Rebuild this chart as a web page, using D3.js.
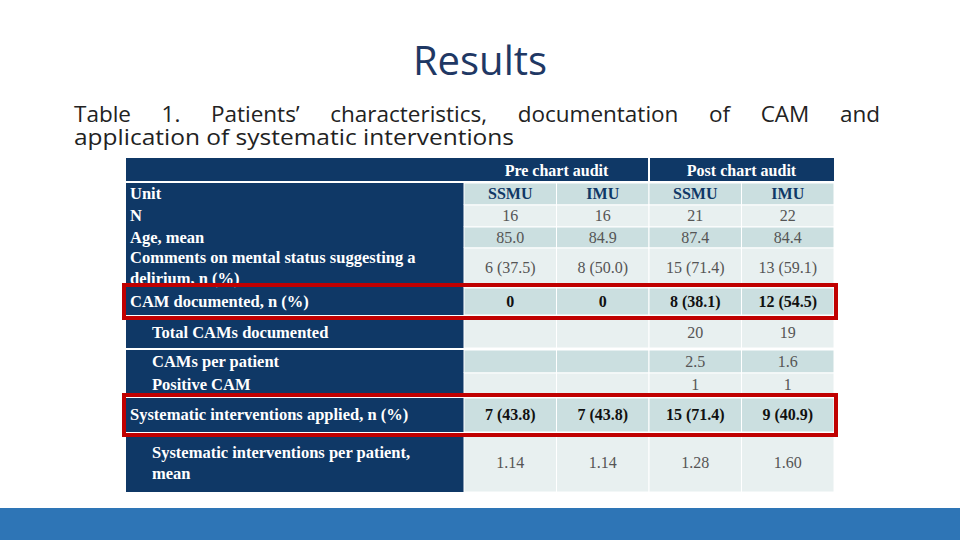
<!DOCTYPE html>
<html><head><meta charset="utf-8">
<script src="https://cdn.jsdelivr.net/npm/d3@7"></script>
<style>body{margin:0;background:#fff}svg{display:block}</style>
</head><body><svg width="960" height="540"></svg>
<script>
var groups = ["Pre chart audit", "Post chart audit"];
var units = ["SSMU", "IMU", "SSMU", "IMU"];
var rowLabels = ["N", "Age, mean", "Comments on mental status suggesting a|delirium, n (%)", "CAM documented, n (%)",
  "Total CAMs documented", "CAMs per patient", "Positive CAM", "Systematic interventions applied, n (%)",
  "Systematic interventions per patient,|mean"];
var rowValues = [
  ["16", "16", "21", "22"],
  ["85.0", "84.9", "87.4", "84.4"],
  ["6 (37.5)", "8 (50.0)", "15 (71.4)", "13 (59.1)"],
  ["0", "0", "8 (38.1)", "12 (54.5)"],
  ["", "", "20", "19"],
  ["", "", "2.5", "1.6"],
  ["", "", "1", "1"],
  ["7 (43.8)", "7 (43.8)", "15 (71.4)", "9 (40.9)"],
  ["1.14", "1.14", "1.28", "1.60"]
];
var rowIndent = [0, 0, 0, 0, 1, 1, 1, 0, 1];
var rowBold = [false, false, false, true, false, false, false, true, false];
var highlighted = [3, 7];
// row edges (header, unit, then data rows)
var rowTops = [158, 183, 205, 227, 248, 288, 317, 350, 373, 398, 434];
var rowBottoms = [181, 205, 227, 248, 288, 315, 348, 373, 396, 432, 492];

var svg = d3.select("svg");
var navy = "#0f3866", light = "#e8f0f0", dark = "#cbdfe0";
var serif = "'Liberation Serif', 'DejaVu Serif', serif";

svg.append("text").attr("x", 480).attr("y", 75).attr("text-anchor", "middle")
  .attr("font-family", "'Open Sans', sans-serif").attr("font-size", 40).attr("fill", "#1f3864").text("Results");

var l1 = svg.append("text").attr("x", 74).attr("y", 122).attr("font-family", "'Open Sans', sans-serif")
  .attr("font-size", 22.5).attr("fill", "#222")
  .text("Table 1. Patients’ characteristics, documentation of CAM and");
var w = l1.node().getComputedTextLength();
l1.attr("word-spacing", (880 - 74 - w) / 7);
svg.append("text").attr("x", 74).attr("y", 145).attr("font-family", "'Open Sans', sans-serif")
  .attr("font-size", 22.5).attr("fill", "#222").attr("textLength", 440).attr("lengthAdjust", "spacingAndGlyphs")
  .text("application of systematic interventions");

var x = d3.scaleBand().domain(d3.range(4)).range([464, 834]);
var labelX0 = 126;

// header row
var g = svg.append("g");
g.append("rect").attr("x", labelX0).attr("y", rowTops[0]).attr("width", 834 - labelX0)
  .attr("height", rowBottoms[0] - rowTops[0]).attr("fill", navy);
groups.forEach(function (t, i) {
  var cx = x(i * 2) + x.bandwidth();
  g.append("text").attr("x", cx).attr("y", rowBottoms[0] - 5).attr("text-anchor", "middle")
    .attr("font-family", serif).attr("font-weight", "bold").attr("font-size", 16).attr("fill", "#fff").text(t);
});
g.append("line").attr("x1", x(2)).attr("x2", x(2)).attr("y1", rowTops[0]).attr("y2", rowBottoms[0])
  .attr("stroke", "#fff").attr("stroke-width", 2);

var allLabels = ["Unit"].concat(rowLabels);
var allValues = [units].concat(rowValues);
allLabels.forEach(function (lab, r) {
  var top = rowTops[r + 1], bot = rowBottoms[r + 1], h = bot - top;
  var fill = (r % 2 === 0) ? dark : light;
  g.append("rect").attr("x", labelX0).attr("y", top).attr("width", x(0) - labelX0).attr("height", h).attr("fill", navy);
  var bold = r === 0 ? true : rowBold[r - 1];
  var indent = r === 0 ? 0 : rowIndent[r - 1];
  var lines = lab.split("|");
  lines.forEach(function (ln, k) {
    g.append("text").attr("x", labelX0 + 4 + indent * 22)
      .attr("y", top + h / 2 + 5 + (k - (lines.length - 1) / 2) * 21)
      .attr("font-family", serif).attr("font-weight", "bold").attr("font-size", 16.5)
      .attr("fill", "#fff").text(ln);
  });
  allValues[r].forEach(function (v, c) {
    g.append("rect").attr("x", x(c)).attr("y", top).attr("width", x.bandwidth()).attr("height", h)
      .attr("fill", fill).attr("stroke", "#fff").attr("stroke-width", 1);
    g.append("text").attr("x", x(c) + x.bandwidth() / 2).attr("y", top + h / 2 + 5)
      .attr("text-anchor", "middle").attr("font-family", serif)
      .attr("font-weight", (r === 0 || bold) ? "bold" : "normal").attr("font-size", 16)
      .attr("fill", r === 0 ? "#0f3866" : (bold ? "#111" : "#555")).text(v);
  });
});

highlighted.forEach(function (r) {
  svg.append("rect").attr("x", 124).attr("y", rowTops[r + 2] - 3).attr("width", 712)
    .attr("height", rowBottoms[r + 2] - rowTops[r + 2] + 6)
    .attr("fill", "none").attr("stroke", "#c00000").attr("stroke-width", 4);
});

svg.append("rect").attr("x", 0).attr("y", 508).attr("width", 960).attr("height", 32).attr("fill", "#2e75b6");
</script></body></html>
